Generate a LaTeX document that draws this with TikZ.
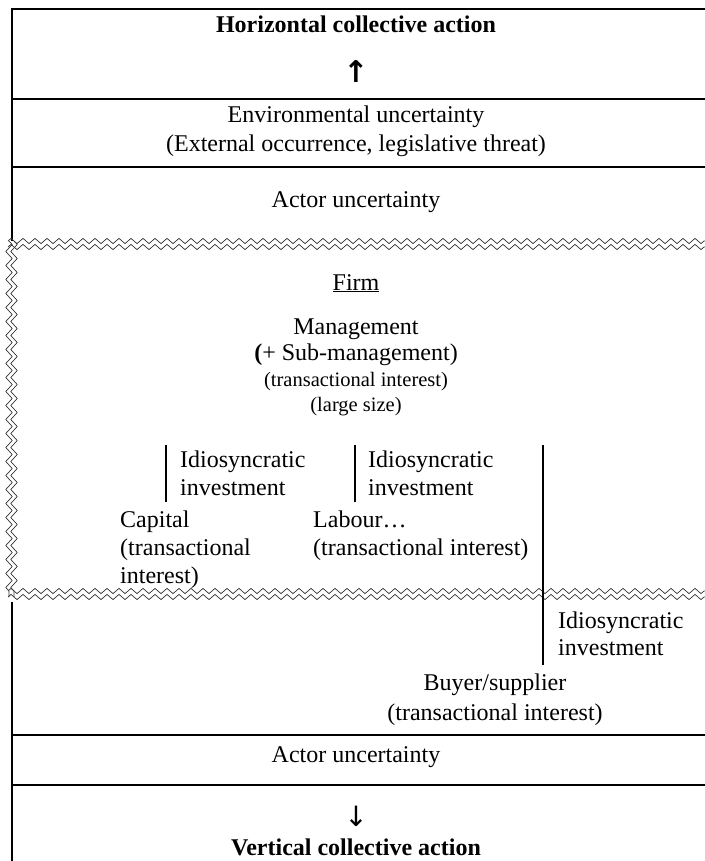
\documentclass[tikz,border=0pt]{standalone}
\usepackage{fontspec}
\setmainfont{Liberation Serif}
\newfontfamily\arrowfont{DejaVu Sans}
\usetikzlibrary{decorations.pathmorphing}
\begin{document}
\begin{tikzpicture}[x=1pt,y=-1pt,
  rule/.style={line width=2pt},
  zz/.style={decorate,decoration={zigzag,segment length=12pt,amplitude=2.6pt},line width=0.7pt,draw=black!80},
  zzv/.style={decorate,decoration={zigzag,segment length=14pt,amplitude=3.2pt},line width=0.7pt,draw=black!80},
  txt/.style={inner sep=0pt,anchor=base,font=\fontsize{24}{28}\selectfont},
  sm/.style={inner sep=0pt,anchor=base,font=\fontsize{20.5}{24}\selectfont},
  tick/.style={line width=2pt}]
\useasboundingbox (0,0) rectangle (704,861);
% frame lines
\draw[rule] (12,9) -- (706,9);
\draw[rule] (12,8) -- (12,241);
\draw[rule] (12,602) -- (12,862);
\draw[rule] (11,99) -- (706,99);
\draw[rule] (11,167) -- (706,167);
\draw[rule] (11,735) -- (706,735);
\draw[rule] (11,785) -- (706,785);
% zigzag firm boundary
\draw[zz] (8,241) -- (706,241);
\draw[zz] (8,247) -- (706,247);
\draw[zz] (8,591) -- (706,591);
\draw[zz] (8,597) -- (706,597);
\draw[zzv] (9,241) -- (9,597);
\draw[zzv] (14,241) -- (14,597);
% texts
\node[txt,font=\fontsize{24}{28}\selectfont\bfseries] (hca) at (356,33) {Horizontal collective action};
\node[txt,font=\fontsize{30}{32}\arrowfont\bfseries] (up) at (356,83) {↑};
\node[txt] (env) at (356,123) {Environmental uncertainty};
\node[txt] (ext) at (356,152) {(External occurrence, legislative threat)};
\node[txt] (au1) at (356,207) {Actor uncertainty};
\node[txt] (firm) at (356,290) {\underline{Firm}};
\node[txt] (mgmt) at (356,334) {Management};
\node[txt] (sub) at (356,360) {{\bfseries(}+ Sub-management)};
\node[sm] (ti1) at (356,386) {(transactional interest)};
\node[sm] (ls) at (356,411) {(large size)};
% verticals
\coordinate (v1t) at (166,445); \coordinate (v1b) at (166,502);
\coordinate (v2t) at (355,445); \coordinate (v2b) at (355,502);
\coordinate (v3t) at (543,445); \coordinate (v3b) at (543,665);
\draw[tick] (v1t) -- (v1b);
\draw[tick] (v2t) -- (v2b);
\draw[tick] (v3t) -- (v3b);
\node[txt,anchor=base west] (id1) at (180,467) {Idiosyncratic};
\node[txt,anchor=base west] (in1) at (180,495) {investment};
\node[txt,anchor=base west] (id2) at (368,467) {Idiosyncratic};
\node[txt,anchor=base west] (in2) at (368,495) {investment};
\node[txt,anchor=base west] (cap) at (120,527) {Capital};
\node[txt,anchor=base west] (capt) at (120,555) {(transactional};
\node[txt,anchor=base west] (capi) at (120,583) {interest)};
\node[txt,anchor=base west] (lab) at (313,527) {Labour…};
\node[txt,anchor=base west] (labt) at (313,555) {(transactional interest)};
\node[txt,anchor=base west] (id3) at (558,628) {Idiosyncratic};
\node[txt,anchor=base west] (in3) at (558,655) {investment};
\node[txt] (bs) at (495,690) {Buyer/supplier};
\node[txt] (bst) at (495,720) {(transactional interest)};
\node[txt] (au2) at (356,762) {Actor uncertainty};
\node[txt,font=\fontsize{28}{30}\arrowfont] (down) at (356,826) {↓};
\node[txt,font=\fontsize{24}{28}\selectfont\bfseries] (vca) at (356,855) {Vertical collective action};
\end{tikzpicture}
\end{document}
